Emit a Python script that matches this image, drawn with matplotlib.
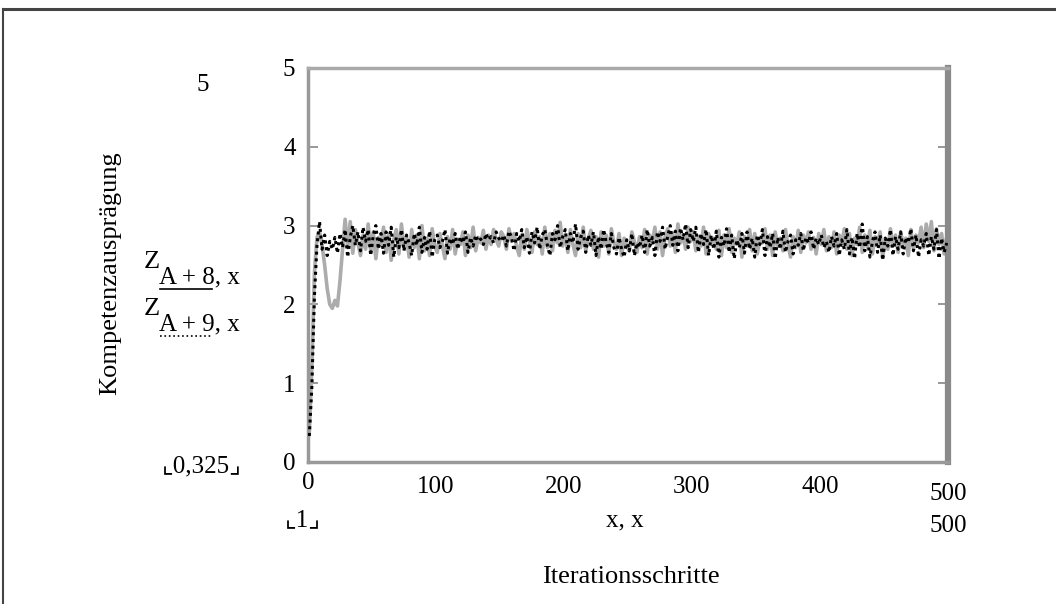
import numpy as np
import matplotlib
matplotlib.use("Agg")
import matplotlib.pyplot as plt
from matplotlib.lines import Line2D

plt.rcParams["font.family"] = ["Liberation Serif", "DejaVu Sans"]

schritte = np.arange(1, 500, 2)

# Z[A+8] (grau, durchgezogen)
z_a8 = [
    0.36, 1.20, 2.40, 2.85, 2.92, 2.75, 2.50, 2.20, 2.00, 1.95,
    2.05, 1.98, 2.30, 2.70, 3.08, 2.72, 3.05, 2.65, 2.95, 2.78,
    2.62, 2.88, 2.70, 3.02, 2.68, 2.92, 2.58, 2.85, 2.75, 2.98,
    2.66, 2.90, 2.56, 2.82, 2.95, 2.64, 3.02, 2.70, 2.86, 2.60,
    2.95, 2.72, 2.88, 2.58, 3.00, 2.68, 2.84, 2.62, 2.96, 2.74,
    2.66, 2.90, 2.74, 2.58, 2.86, 2.70, 2.95, 2.64, 2.82, 2.76,
    2.92, 2.62, 2.88, 2.72, 2.98, 2.68, 2.85, 2.78, 2.94, 2.70,
    2.88, 2.76, 2.95, 2.82, 2.74, 2.92, 2.86, 2.70, 2.96, 2.80,
    2.90, 2.74, 2.62, 2.88, 2.70, 2.95, 2.80, 2.66, 2.92, 2.76,
    2.86, 2.64, 2.98, 2.72, 2.90, 2.68, 2.94, 2.78, 3.04, 2.74,
    2.88, 2.66, 2.95, 2.76, 2.62, 2.90, 2.72, 2.98, 2.68, 2.84,
    2.94, 2.70, 2.86, 2.60, 2.92, 2.74, 2.88, 2.64, 2.96, 2.78,
    2.70, 2.90, 2.62, 2.84, 2.74, 2.68, 2.92, 2.80, 2.66, 2.86,
    2.72, 2.95, 2.64, 2.88, 2.78, 2.98, 2.70, 2.92, 2.62, 2.86,
    2.96, 2.74, 2.90, 2.66, 3.02, 2.78, 2.88, 2.70, 2.98, 2.80,
    2.92, 2.68, 2.86, 2.74, 2.98, 2.64, 2.90, 2.78, 2.84, 2.70,
    2.94, 2.62, 2.88, 2.72, 2.96, 2.66, 2.84, 2.76, 2.92, 2.60,
    2.86, 2.74, 2.95, 2.68, 2.90, 2.64, 2.82, 2.78, 2.96, 2.70,
    2.88, 2.62, 2.92, 2.74, 2.84, 2.68, 2.95, 2.76, 2.60, 2.86,
    2.72, 2.94, 2.66, 2.88, 2.78, 2.92, 2.70, 2.85, 2.64, 2.90,
    2.76, 2.95, 2.68, 2.86, 2.72, 2.92, 2.64, 2.88, 2.78, 2.96,
    2.70, 2.90, 2.62, 2.84, 2.76, 2.98, 2.66, 2.88, 2.72, 2.94,
    2.64, 2.86, 2.78, 2.92, 2.60, 2.84, 2.70, 2.96, 2.74, 2.88,
    2.66, 2.92, 2.76, 2.84, 2.62, 2.95, 2.70, 2.88, 2.78, 2.98,
    2.72, 3.02, 2.80, 3.05, 2.68, 2.96, 2.76, 2.90, 2.64, 2.86,
]

# Z[A+9] (schwarz, gepunktet)
z_a9 = [
    0.33, 0.95, 2.10, 2.75, 3.05, 2.70, 2.88, 2.62, 2.80, 2.70,
    2.85, 2.65, 2.90, 2.72, 2.95, 2.60, 2.85, 3.00, 2.75, 2.92,
    2.68, 2.98, 2.80, 2.95, 2.62, 2.88, 3.00, 2.70, 2.90, 2.65,
    2.92, 2.75, 2.98, 2.60, 2.85, 2.72, 2.95, 2.68, 2.88, 2.78,
    2.62, 2.90, 2.75, 2.98, 2.66, 2.85, 2.70, 2.93, 2.60, 2.82,
    2.88, 2.72, 2.80, 2.95, 2.65, 2.84, 2.76, 2.90, 2.70, 2.86,
    2.78, 2.92, 2.66, 2.85, 2.74, 2.88, 2.80, 2.83, 2.76, 2.90,
    2.82, 2.86, 2.78, 2.92, 2.84, 2.80, 2.88, 2.74, 2.93, 2.85,
    2.68, 2.90, 2.80, 2.95, 2.72, 2.86, 2.65, 2.92, 2.78, 2.98,
    2.70, 2.88, 2.95, 2.75, 2.62, 2.90, 2.82, 3.00, 2.72, 2.86,
    2.95, 2.68, 2.90, 2.78, 3.02, 2.70, 2.85, 2.93, 2.66, 2.88,
    2.75, 2.92, 2.62, 2.86, 2.70, 2.95, 2.78, 2.66, 2.90, 2.72,
    2.64, 2.85, 2.70, 2.60, 2.82, 2.68, 2.90, 2.62, 2.78, 2.72,
    2.88, 2.66, 2.95, 2.74, 2.85, 2.62, 2.92, 2.80, 2.98, 2.70,
    2.86, 3.00, 2.75, 2.93, 2.68, 2.97, 2.82, 3.02, 2.72, 2.95,
    2.80, 2.98, 2.66, 2.90, 2.76, 2.95, 2.62, 2.88, 2.70, 2.93,
    2.60, 2.85, 2.74, 2.96, 2.66, 2.88, 2.58, 2.82, 2.72, 2.90,
    2.65, 2.92, 2.70, 2.84, 2.60, 2.88, 2.76, 2.95, 2.62, 2.86,
    2.72, 2.90, 2.58, 2.85, 2.70, 2.93, 2.66, 2.80, 2.88, 2.64,
    2.82, 2.75, 2.90, 2.68, 2.85, 2.78, 2.92, 2.70, 2.84, 2.76,
    2.88, 2.72, 2.80, 2.66, 2.86, 2.74, 2.90, 2.62, 2.82, 2.70,
    2.95, 2.64, 2.85, 2.58, 2.90, 2.72, 3.02, 2.68, 2.86, 2.60,
    2.80, 2.92, 2.66, 2.88, 2.56, 2.84, 2.74, 2.95, 2.62, 2.86,
    2.70, 2.92, 2.64, 2.85, 2.78, 2.96, 2.68, 2.88, 2.60, 2.82,
    2.74, 2.90, 2.62, 2.86, 2.70, 2.95, 2.58, 2.84, 2.66, 2.78,
]

y_ticks = [0, 1, 2, 3, 4, 5]
x_ticks = [0, 100, 200, 300, 400, 500]

W, H = 1056, 604
fig = plt.figure(figsize=(W / 100, H / 100), dpi=100)


def fx(px):
    return px / W


def fy(py):
    return 1 - py / H


FS = 18   # Zahlen
FL = 19   # Beschriftungen

# Achsenbereich (Pixel aus der Vorlage)
ax = fig.add_axes([fx(308), fy(462), fx(948) - fx(308), fy(68) - fy(462)])
ax.plot(schritte, z_a8, color="#acacac", lw=2.6, zorder=2)
ax.plot(schritte, z_a9, color="black", lw=2.2, ls=(0, (1, 1.2)), zorder=3)

ax.set_xlim(0, 500)
ax.set_ylim(0, 5)
ax.set_yticks(y_ticks)
ax.set_yticklabels([str(v) for v in y_ticks], fontsize=FS)
ax.set_xticks(x_ticks)
ax.set_xticklabels([""] + [str(v) for v in x_ticks[1:-1]] + [""], fontsize=FS)
ax.tick_params(axis="x", length=0, pad=10)
ax.tick_params(axis="y", direction="in", length=7, width=1.2, color="#888888",
               left=True, right=True, pad=9)

for side, lw, col in [("left", 2.5, "#999999"), ("top", 2.5, "#aaaaaa"),
                      ("right", 4.5, "#8a8a8a"), ("bottom", 2.5, "#999999")]:
    ax.spines[side].set_linewidth(lw)
    ax.spines[side].set_color(col)

# Grenzwerte der x-Achse (Mathcad-Stil)
ax.text(x_ticks[0], -0.025, "0", transform=ax.get_xaxis_transform(),
        ha="center", va="top", fontsize=FS)
ax.text(x_ticks[-1], -0.08, "500", transform=ax.get_xaxis_transform(),
        ha="center", va="center", fontsize=FS)

# Beschriftungen
fig.text(fx(203), fy(85), "5", ha="center", va="center", fontsize=FS)
fig.text(fx(202), fy(466), "\u231e0,325\u231f", ha="center", va="center", fontsize=FS)
fig.text(fx(303), fy(520), "\u231e1\u231f", ha="center", va="center", fontsize=FS)
fig.text(fx(625), fy(520), "x, x", ha="center", va="center", fontsize=FS)
fig.text(fx(948), fy(526), "500", ha="center", va="center", fontsize=FS)
fig.text(fx(631), fy(577), "Iterationsschritte", ha="center", va="center", fontsize=FL)
fig.text(fx(110), fy(273), "Kompetenzausprägung", ha="center", va="center",
         rotation=90, fontsize=FL)

# Legende links
for y0, idx, style in [(268, "8", "-"), (315, "9", ":")]:
    fig.text(fx(144), fy(y0), "Z", ha="left", va="baseline", fontsize=FL)
    fig.text(fx(159), fy(y0 + 15), "A + " + idx + ", x", ha="left", va="baseline", fontsize=FS)
    fig.add_artist(Line2D([fx(160), fx(212)], [fy(y0 + 21), fy(y0 + 21)],
                          transform=fig.transFigure, color="black",
                          lw=1.2, ls=style))

# äußerer Rahmen
fig.add_artist(Line2D([fx(3), fx(1056)], [fy(9), fy(9)], transform=fig.transFigure,
                      color="#444444", lw=2.2))
fig.add_artist(Line2D([fx(3), fx(3)], [fy(9), fy(604)], transform=fig.transFigure,
                      color="#444444", lw=1.5))

fig.savefig("out.png", dpi=100)
